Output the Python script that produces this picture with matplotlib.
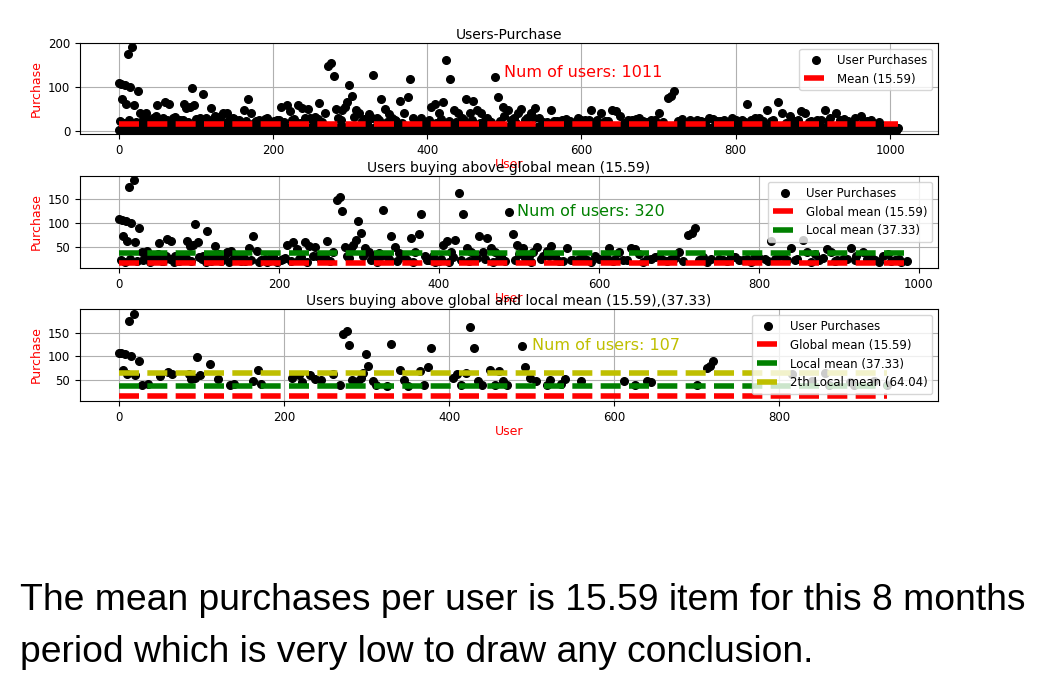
import numpy as np
import matplotlib
matplotlib.use("Agg")
import matplotlib.pyplot as plt

# users purchasing above global mean (user id, purchases)
hi_x = [0,3,5,8,10,12,15,18,20,25,28,30,35,40,45,50,55,60,65,70,75,80,85,88,92,95,98,100,
        105,110,115,120,125,130,135,140,145,150,158,162,168,172,178,185,190,195,
        205,210,218,222,228,232,238,245,248,255,260,268,272,276,279,282,285,290,293,296,299,302,305,308,312,318,
        325,330,335,340,345,350,355,360,365,370,375,378,382,388,395,
        405,410,415,420,425,430,435,440,445,450,455,460,465,470,475,480,488,492,498,500,
        505,512,518,522,530,535,540,545,555,560,565,575,585,595,605,612,620,625,630,640,645,650,660,670,680,690,700,705,
        712,716,720,730,740,755,765,775,785,795,808,815,825,835,840,848,855,860,870,875,885,890,898,905,915,922,930,935,945,955,962,970,978,985]
hi_y = [108,107,72,105,62,175,100,190,60,90,40,22,42,25,30,58,20,67,62,30,20,25,62,52,55,98,60,28,
        30,84,20,52,35,25,40,42,22,28,20,47,72,42,22,18,28,22,
        25,55,60,45,28,60,52,50,30,32,63,40,148,155,125,50,30,48,55,65,105,80,32,48,40,28,
        38,127,30,72,50,38,30,22,68,40,78,118,30,22,18,
        55,62,40,65,162,118,48,40,30,72,40,68,48,40,25,22,123,78,55,35,
        48,30,40,50,30,42,52,30,20,48,22,25,22,30,25,48,25,40,22,48,45,35,25,28,22,25,40,20,
        75,80,90,28,25,22,30,22,25,30,25,62,30,22,48,25,65,40,35,22,45,40,22,25,48,30,40,25,22,30,35,22,18,20]
mid_x = [2,7,14,22,33,38,43,48,53,58,63,68,73,78,83,90,103,108,113,118,123,128,133,138,143,148,153,156,165,175,182,188,
         193,198,202,208,215,225,235,242,252,258,264,288,315,322,328,338,348,358,368,385,392,400,403,412,418,428,438,448,
         458,468,478,483,495,508,515,527,538,550,568,580,590,600,610,618,635,655,665,675,685,695,725,735,750,760,770,780,
         790,800,812,820,830,845,865,880,895,910,920,940,950,965,975]
mid_y = [22,18,25,20,28,18,22,35,20,30,24,18,32,22,26,20,24,18,30,22,28,20,34,18,24,30,20,26,22,18,24,20,
         30,18,22,26,20,24,18,30,22,28,20,26,22,18,30,24,20,26,18,22,30,20,24,18,28,22,20,26,
         24,18,30,20,22,26,18,24,30,20,22,28,18,24,26,20,22,18,24,30,20,26,22,18,24,20,28,22,
         18,26,20,24,30,22,18,26,20,24,22,28,18,20,24]
low_digits = ("3518264937152846391725836419273581649275318462973518246397152836491725" 
              "8362941735819264731582946371825936417258394617253849162735849216375849"
              "2617358492637158429637185249637158249763815294763812549736182549371625"
              "4937162853947162835947126385941726358491726354981726354918273654918273"
              "6549182736451928374651928374615293847162593847162539481726539481276354"
              "9812736459817236459128374659128736451928376451298374651298376451923874"
              "5619283745169238475162938475162398475126398471526398417256398412756394"
              "8127563948127659348127659341827659314827569314827653914827563918427563"
              "9182745639812745693812746593182746593128746591328746591238476591234876"
              "5912348765193248765139248761539248716539284716532984716532894716352894"
              "7163528947162358947162538947165238941765238941672538946172538946175238"
              "9461752389416752389641752398641752936841752938641759238647159238647152")
total_users = 1011
global_mean = 15.59
local_mean = 37.33
local_mean2 = 64.04
n_all, n_above, n_above2 = 1011, 320, 107

hi_set = set(hi_x) | set(mid_x)
low_x = [i for i in range(total_users) if i not in hi_set]
low_y = [int(d) for d in low_digits]
pairs = list(zip(hi_x, hi_y)) + list(zip(mid_x, mid_y)) + list(zip(low_x, low_y))
pairs.sort()
X = np.array([p[0] for p in pairs]); Y = np.array([p[1] for p in pairs], float)

plt.rcParams['font.family'] = ['DejaVu Sans']
fig = plt.figure(figsize=(10.48, 6.91), dpi=100)
W = 0.8187; L = 0.0763
axs = [fig.add_axes([L, 0.806, W, 0.1317]), fig.add_axes([L, 0.6122, W, 0.133]), fig.add_axes([L, 0.4197, W, 0.133])]
dash = dict(ls=(0, (3.6, 1.5)), lw=4)

def common(ax, title):
    ax.set_title(title, fontsize=10, pad=3)
    ax.set_ylabel('Purchase', color='red', fontsize=9)
    ax.set_xlabel('User', color='red', fontsize=9, labelpad=1)
    ax.grid(True)
    ax.tick_params(labelsize=8.5)

ax = axs[0]
ax.plot(X, Y, 'o', color='black', ms=5.5, label='User Purchases')
ax.plot([X.min(), X.max()], [global_mean]*2, color='red', label='Mean (%.2f)' % global_mean, **dash)
ax.text(500, 122, 'Num of users: %d' % n_all, color='red', fontsize=11.5)
ax.set_xlim(-50, 1062); ax.set_ylim(-7, 200)
ax.set_yticks([0, 100, 200]); ax.set_xticks([0, 200, 400, 600, 800, 1000])
common(ax, 'Users-Purchase')
ax.legend(loc='upper right', fontsize=8.5)

m = Y > global_mean
ax = axs[1]
ax.plot(X[m], Y[m], 'o', color='black', ms=5.5, label='User Purchases')
ax.plot([X[m].min(), X[m].max()], [global_mean]*2, color='red', label='Global mean (%.2f)' % global_mean, **dash)
ax.plot([X[m].min(), X[m].max()], [local_mean]*2, color='green', label='Local mean (%.2f)' % local_mean, **dash)
ax.text(497, 114, 'Num of users: %d' % n_above, color='green', fontsize=11.5)
ax.set_xlim(-49, 1024); ax.set_ylim(6, 198)
ax.set_yticks([50, 100, 150]); ax.set_xticks([0, 200, 400, 600, 800, 1000])
common(ax, 'Users buying above global mean (%.2f)' % global_mean)
ax.legend(loc='upper right', fontsize=8.5)

m2 = Y > local_mean
ax = axs[2]
ax.plot(X[m2], Y[m2], 'o', color='black', ms=5.5, label='User Purchases')
ax.plot([X[m2].min(), X[m2].max()], [global_mean]*2, color='red', label='Global mean (%.2f)' % global_mean, **dash)
ax.plot([X[m2].min(), X[m2].max()], [local_mean]*2, color='green', label='Local mean (%.2f)' % local_mean, **dash)
ax.plot([X[m2].min(), X[m2].max()], [local_mean2]*2, color='#bfbf00', label='2th Local mean (%.2f)' % local_mean2, **dash)
ax.text(501, 113, 'Num of users: %d' % n_above2, color='#bfbf00', fontsize=11.5)
ax.set_xlim(-47, 992); ax.set_ylim(5, 201)
ax.set_yticks([50, 100, 150]); ax.set_xticks([0, 200, 400, 600, 800])
common(ax, 'Users buying above global and local mean (%.2f),(%.2f)' % (global_mean, local_mean))
ax.legend(loc='upper right', fontsize=8.5)

fig.text(20/1048, 1-600/691, 'The mean purchases per user is 15.59 item for this 8 months',
         fontsize=26.8, family='Liberation Sans', va='center')
fig.text(20/1048, 1-652/691, 'period which is very low to draw any conclusion.',
         fontsize=26.8, family='Liberation Sans', va='center')
fig.savefig('out.png', dpi=100)
